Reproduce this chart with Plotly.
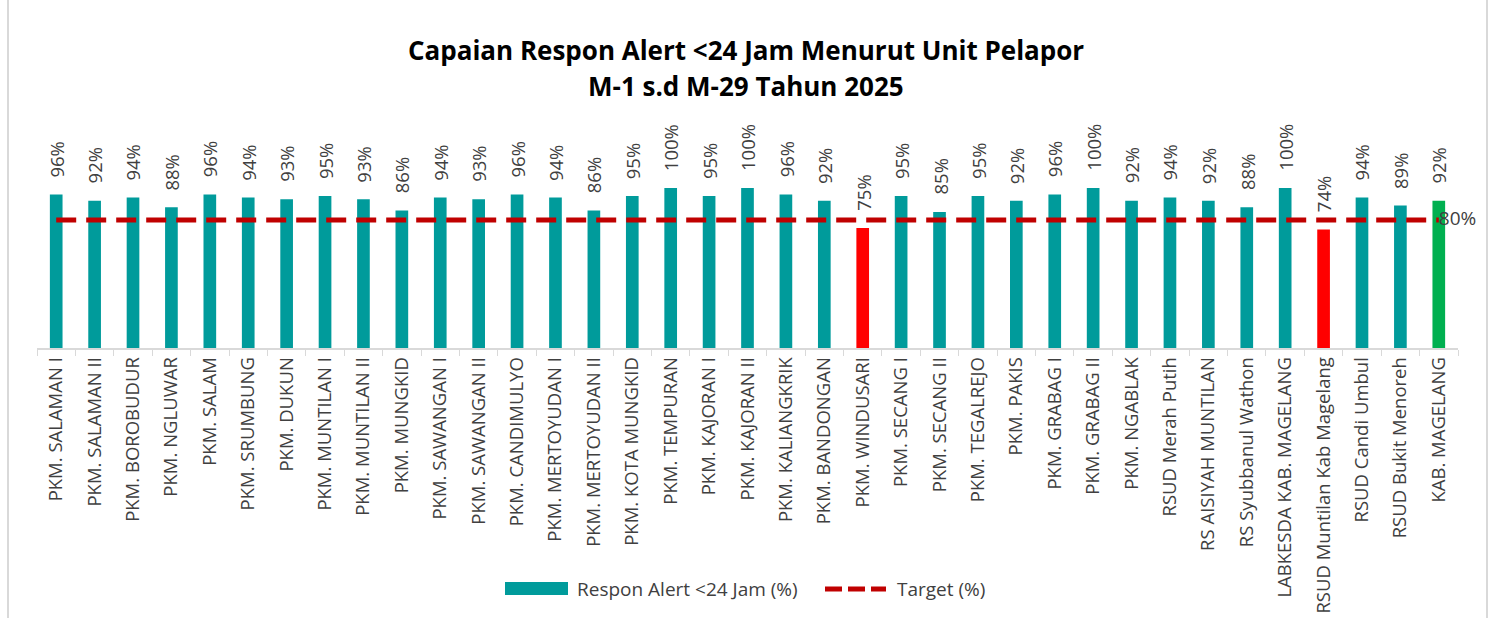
import plotly.graph_objects as go

categories = ["PKM. SALAMAN I", "PKM. SALAMAN II", "PKM. BOROBUDUR", "PKM. NGLUWAR", "PKM. SALAM",
              "PKM. SRUMBUNG", "PKM. DUKUN", "PKM. MUNTILAN I", "PKM. MUNTILAN II", "PKM. MUNGKID",
              "PKM. SAWANGAN I", "PKM. SAWANGAN II", "PKM. CANDIMULYO", "PKM. MERTOYUDAN I",
              "PKM. MERTOYUDAN II", "PKM. KOTA MUNGKID", "PKM. TEMPURAN", "PKM. KAJORAN I",
              "PKM. KAJORAN II", "PKM. KALIANGKRIK", "PKM. BANDONGAN", "PKM. WINDUSARI",
              "PKM. SECANG I", "PKM. SECANG II", "PKM. TEGALREJO", "PKM. PAKIS", "PKM. GRABAG I",
              "PKM. GRABAG II", "PKM. NGABLAK", "RSUD Merah Putih", "RS AISIYAH MUNTILAN",
              "RS Syubbanul Wathon", "LABKESDA KAB. MAGELANG", "RSUD Muntilan Kab Magelang",
              "RSUD Candi Umbul", "RSUD Bukit Menoreh", "KAB. MAGELANG"]
respon = [96, 92, 94, 88, 96, 94, 93, 95, 93, 86, 94, 93, 96, 94, 86, 95, 100, 95, 100, 96, 92, 75,
          95, 85, 95, 92, 96, 100, 92, 94, 92, 88, 100, 74, 94, 89, 92]
target = [80] * len(categories)
legend_names = ["Respon Alert <24 Jam (%)", "Target (%)"]

TEAL = "#009B9B"
RED = "#FF0000"
GREEN = "#00B050"
DRED = "#C00000"
FONT = "Open Sans"
GRAY = "#404040"

colors = []
for i, v in enumerate(respon):
    if i == len(respon) - 1:
        colors.append(GREEN)
    elif v < 80:
        colors.append(RED)
    else:
        colors.append(TEAL)

# layout geometry (pixels)
W, H = 1493, 618
L, R, T, B = 37, 35, 140, 270
PW, PH = W - L - R, H - T - B


def px(x):
    return (x - L) / PW


def py(y):
    return (H - B - y) / PH


fig = go.Figure()
fig.add_trace(go.Bar(
    x=categories, y=respon, name=legend_names[0],
    marker=dict(color=colors, line=dict(width=0)),
    showlegend=False,
))
fig.add_trace(go.Scatter(
    x=categories, y=target, name=legend_names[1], mode="lines+text",
    line=dict(color=DRED, width=5, dash="20px,10px"),
    text=[""] * (len(target) - 1) + [f"{target[-1]}%"], textposition="middle right",
    textfont=dict(family=FONT, size=19, color=GRAY),
    cliponaxis=False, showlegend=False,
))

annotations = []
for c, v in zip(categories, respon):
    annotations.append(dict(x=c, y=v, xref="x", yref="y", text=f"{v}%", textangle=-90,
                            showarrow=False, yanchor="bottom", xanchor="center", yshift=15,
                            font=dict(family=FONT, size=18.5, color=GRAY)))

annotations += [
    dict(text="<b>Capaian Respon Alert <24 Jam Menurut Unit Pelapor</b>",
         xref="paper", yref="paper", x=px(746), y=py(50), showarrow=False,
         font=dict(family=FONT, size=26, color="black"), yanchor="middle", xanchor="center"),
    dict(text="<b>M-1 s.d M-29 Tahun 2025</b>",
         xref="paper", yref="paper", x=px(746), y=py(86), showarrow=False,
         font=dict(family=FONT, size=26, color="black"), yanchor="middle", xanchor="center"),
    dict(text=legend_names[0], xref="paper", yref="paper", x=px(575), y=py(589),
         showarrow=False, xanchor="left", yanchor="middle",
         font=dict(family=FONT, size=19, color=GRAY)),
    dict(text=legend_names[1], xref="paper", yref="paper", x=px(895), y=py(589),
         showarrow=False, xanchor="left", yanchor="middle",
         font=dict(family=FONT, size=19, color=GRAY)),
]

shapes = [
    dict(type="line", xref="paper", yref="paper", x0=px(8), x1=px(8),
         y0=py(H + 10), y1=py(-10), line=dict(color="#D9D9D9", width=2)),
    dict(type="line", xref="paper", yref="paper", x0=px(1487), x1=px(1487),
         y0=py(H + 10), y1=py(-10), line=dict(color="#D9D9D9", width=2)),
    dict(type="rect", xref="paper", yref="paper", x0=px(505), x1=px(568),
         y0=py(595), y1=py(582), fillcolor=TEAL, line=dict(width=0)),
    dict(type="line", xref="paper", yref="paper", x0=px(825), x1=px(886),
         y0=py(589), y1=py(589), line=dict(color=DRED, width=5, dash="17px,6px")),
]

fig.update_layout(
    width=W, height=H,
    paper_bgcolor="white", plot_bgcolor="white",
    margin=dict(l=L, r=R, t=T, b=B, autoexpand=False),
    bargap=0.67,
    showlegend=False,
    font=dict(family=FONT, color=GRAY),
    annotations=annotations,
    shapes=shapes,
)
fig.update_xaxes(tickangle=-90, tickfont=dict(family=FONT, size=18.5, color=GRAY),
                 showline=True, linecolor="#D9D9D9", linewidth=1.5,
                 ticks="outside", ticklen=6, tickcolor="#D9D9D9", tickson="boundaries",
                 showgrid=False, automargin=False, range=[-0.5, len(categories) - 0.5])
fig.update_yaxes(range=[0, 130], visible=False, showgrid=False, automargin=False)

fig.write_html("out.html", config={"displayModeBar": False},
               post_script="document.body.style.margin='0';document.body.style.overflow='hidden';")
